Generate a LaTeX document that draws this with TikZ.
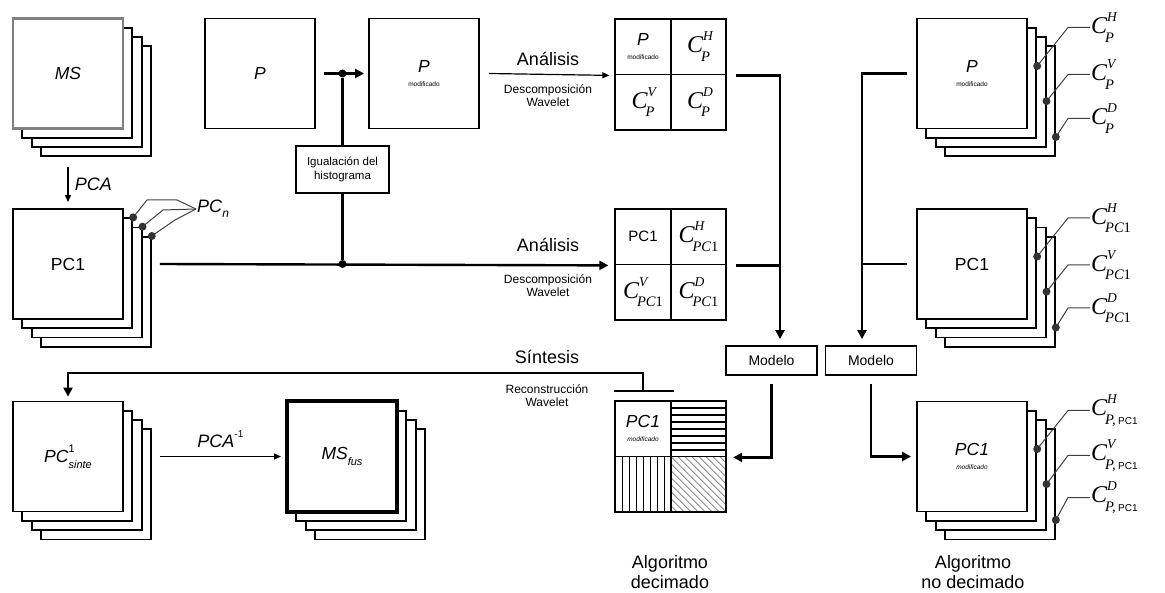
\documentclass[tikz,border=0pt]{standalone}
\usepackage{fontspec}
\setmainfont{Liberation Sans}
\newfontfamily\cfont{Liberation Serif}
\usetikzlibrary{arrows.meta,calc}

\newcommand{\modif}{\\[-4pt]{\fontsize{6.5}{7}\selectfont modificado}}
\newcommand{\coef}[2]{{\cfont\itshape C}\makebox[0pt][l]{\raisebox{0.5em}{\fontsize{13.5}{14}\selectfont\cfont\itshape #1}}\kern-2pt\raisebox{-0.36em}{\fontsize{14.5}{15}\selectfont\cfont\itshape #2}}
\newcommand{\pcsub}{{\rmfamily\upshape\fontsize{10}{10}\selectfont PC1}}

\begin{document}
\begin{tikzpicture}[x=1pt,y=-1pt,
  img/.style={draw,line width=1.8pt,fill=white,minimum size=110pt,inner sep=0pt,align=center,font=\fontsize{17.5}{18}\selectfont},
  cell/.style={draw,line width=1.8pt,minimum size=55.5pt,inner sep=0pt,align=center,font=\fontsize{24}{24}\selectfont},
  txt/.style={font=\fontsize{18}{20.5}\selectfont,align=center},
  note/.style={font=\fontsize{12}{13}\selectfont,align=center},
  boxed/.style={draw,line width=1.8pt,inner sep=0pt,align=center},
  coef/.style={anchor=west,inner sep=1pt,font=\fontsize{24}{24}\selectfont},
  link/.style={line width=1.2pt,-{Triangle[length=7pt,width=6pt]}},
  flow/.style={line width=2.4pt},
  tip/.style={-{Triangle[length=9pt,width=9pt]}},
  lead/.style={line width=1pt,black!75},
  dot/.style={circle,fill=black,inner sep=0pt,minimum size=8pt},
  hlines/.style={path picture={\foreach \k in {1,...,7}
    \draw[line width=1.3pt] ($(path picture bounding box.north west)+(0,7*\k)$) -- ($(path picture bounding box.north east)+(0,7*\k)$);}},
  vlines/.style={path picture={\foreach \k in {1,...,7}
    \draw[line width=1.3pt] ($(path picture bounding box.north west)+(7*\k,0)$) -- ($(path picture bounding box.south west)+(7*\k,0)$);}},
  dlines/.style={path picture={\foreach \k in {-8,...,8}
    \draw[black!45,line width=0.8pt] ($(path picture bounding box.north west)+(7*\k,0)$) -- ++(60,60);}}]
\useasboundingbox (0,0) rectangle (1165,593);

% layers behind each image
\foreach \s/\x/\y in {ms/68/73.5,pc/68/264,ps/68/456.5,mf/342/456.5,rp/972/73.5,rc/972/264,rm/972/456.5}
  \foreach \i in {3,2,1}
    \node[img] (\s\i) at (\x+9.3*\i,\y+9.3*\i) {};

\node[img,draw=black!50,line width=2.4pt] (ms) at (68,73.5) {\textit{MS}};
\node[img] (pc) at (68,264) {PC1};
\node[img] (ps) at (68,456.5) {\textit{PC}\rlap{\raisebox{1.1ex}{\fontsize{11}{11}\selectfont 1}}\raisebox{-0.6ex}{\fontsize{11}{11}\selectfont\itshape sinte}};
\node[img,line width=4pt] (mf) at (342,456.5) {\textit{MS}\raisebox{-0.6ex}{\fontsize{11}{11}\selectfont\itshape fus}};
\node[img] (rp) at (972,73.5) {\textit{P}\modif};
\node[img] (rc) at (972,264) {PC1};
\node[img] (rm) at (972,456.5) {\textit{PC1}\\[-4pt]{\fontsize{6.5}{7}\selectfont\itshape modificado}};

\node[img] (p) at (260,73.5) {\textit{P}};
\node[img] (pm) at (424,73.5) {\textit{P}\modif};

% wavelet planes
\node[cell,font=\fontsize{17.5}{18}\selectfont] (ga) at (643,46.75) {\textit{P}\modif};
\node[cell] (gh) at (698.5,46.75) {\coef{H}{P}};
\node[cell] (gv) at (643,102.25) {\coef{V}{P}};
\node[cell] (gd) at (698.5,102.25) {\coef{D}{P}};

\node[cell,font=\fontsize{15}{16}\selectfont] (ca) at (643,236.75) {PC1};
\node[cell] (ch) at (698.5,236.75) {\coef{H}{PC{\upshape 1}}};
\node[cell] (cv) at (643,292.25) {\coef{V}{PC{\upshape 1}}};
\node[cell] (cd) at (698.5,292.25) {\coef{D}{PC{\upshape 1}}};

\node[cell,font=\fontsize{17.5}{18}\selectfont] (da) at (643,428.75) {\textit{PC1}\\[-4pt]{\fontsize{6.5}{7}\selectfont\itshape modificado}};
\node[cell,hlines] (dh) at (698.5,428.75) {};
\node[cell,vlines] (dv) at (643,484.25) {};
\node[cell,dlines] (dd) at (698.5,484.25) {};

\node[boxed,minimum width=93pt,minimum height=47pt,font=\fontsize{11.5}{13.5}\selectfont] (eq) at (342.5,169.5) {Igualación del\\histograma};
\node[boxed,minimum width=91pt,minimum height=29pt,font=\fontsize{14}{15}\selectfont] (m1) at (771.5,360.5) {Modelo};
\node[boxed,minimum width=91pt,minimum height=29pt,font=\fontsize{14}{15}\selectfont] (m2) at (871,360.5) {Modelo};

\node[dot] (j1) at (342.5,73.5) {};
\node[dot] (j2) at (342.5,264) {};

% connectors
\draw[link] ($(ms3.south -| ms.south)+(0,10)$) -- ($(pc.north)+(0,-6)$) node[midway,right=3pt,txt] {\textit{PCA}};
\draw[flow,tip] ([xshift=8pt]p.east) -- ([xshift=-4pt]pm.west);
\draw[flow] (j1) -- (eq);
\draw[flow] (eq) -- (j2);
\draw[flow,tip] ($(pc.east -| pc3.east)+(8,0)$) -- ($(ca.south west)+(-6,0)$);
\draw[link] ($(pm.east)+(9,0)$) -- ($(ga.south west)+(-5,0)$);

\draw[flow,tip] ($(gh.south east)+(9,0)$) -| ($(m1.north)+(8.5,-6)$);
\draw[flow] ($(ch.south east)+(9,0)$) -- ($(ch.south east)+(54,0)$);
\draw[flow,tip] ($(rp.west)+(-9,0)$) -| ($(m2.north)+(-9,-6)$);
\draw[line width=1.2pt] ($(rc.west)+(-9,0)$) -- ($(rc.west)+(-55,0)$);
\draw[flow,tip] ($(m1.south)+(0,8)$) |- ($(dh.south east)+(6,0)$);
\draw[flow,tip] ($(m2.south)+(0,8)$) |- ($(rm.west)+(-5,0)$);

\draw[flow] ($(da.north west)+(0,-9)$) -- ($(da.north east)+(2,-9)$);
\draw[flow,tip] ($(da.north)+(0,-9)$) -- ($(da.north)+(0,-27)$) -| ($(ps.north)+(0,-4)$);
\draw[link] ($(ps.east -| ps3.east)+(8,0)$) -- ($(mf.west)+(-4,0)$) node[midway,above=5pt,txt] {\textit{PCA}\raisebox{1ex}{\fontsize{10}{10}\selectfont -1}};

% texts
\node[txt] at (548,59) {Análisis};
\node[note] at (548,95.5) {Descomposición\\Wavelet};
\node[txt] at (548,245) {Análisis};
\node[note] at (548,285.5) {Descomposición\\Wavelet};
\node[txt] at (547,357) {Síntesis};
\node[note] at (547,395.5) {Reconstrucción\\Wavelet};
\node[txt] at (670,572) {Algoritmo\\decimado};
\node[txt] at (973,572) {Algoritmo\\no decimado};

% principal components
\node[txt,anchor=west,inner sep=1pt] (pcn) at (196,209) {\textit{PC}\raisebox{-0.5ex}{\fontsize{12}{12}\selectfont\itshape n}};
\draw[lead] (pc1.north east) -- (147,200) -- (177,200) -- (pcn.west);
\draw[lead] (pc2.north east) -- (163,210) -- (pcn.west);
\draw[lead] (pc3.north east) -- (175,220) -- (pcn.west);
\foreach \i in {1,2,3}
  \fill[black!80] (pc\i.north east) circle (4pt);

% coefficients of the undecimated planes
\node[coef] (rp-H) at (1090,27.5) {\coef{H}{P}};
\node[coef] (rp-V) at (1090,74.5) {\coef{V}{P}};
\node[coef] (rp-D) at (1090,118.5) {\coef{D}{P}};
\node[coef] (rc-H) at (1090,218) {\coef{H}{PC{\upshape 1}}};
\node[coef] (rc-V) at (1090,265) {\coef{V}{PC{\upshape 1}}};
\node[coef] (rc-D) at (1090,308) {\coef{D}{PC{\upshape 1}}};
\node[coef] (rm-H) at (1090,410.5) {\coef{H}{P,\,\pcsub}};
\node[coef] (rm-V) at (1090,455.5) {\coef{V}{P,\,\pcsub}};
\node[coef] (rm-D) at (1090,497.5) {\coef{D}{P,\,\pcsub}};

\foreach \s in {rp,rc,rm} {
  \draw[lead] ([yshift=16.8pt]\s1.east) -- ($(\s-H.west)+(-22,0)$) -- (\s-H.west);
  \draw[lead] ([yshift=-9pt]\s2.east) -- ($(\s-V.west)+(-22,0)$) -- (\s-V.west);
  \draw[lead] ([yshift=-35.6pt]\s3.east) -- ($(\s-D.west)+(-22,0)$) -- (\s-D.west);
  \foreach \i/\d in {1/16.8,2/-9,3/-35.6}
    \fill[black!80] ([yshift=\d pt]\s\i.east) circle (4pt);
}
\end{tikzpicture}
\end{document}
